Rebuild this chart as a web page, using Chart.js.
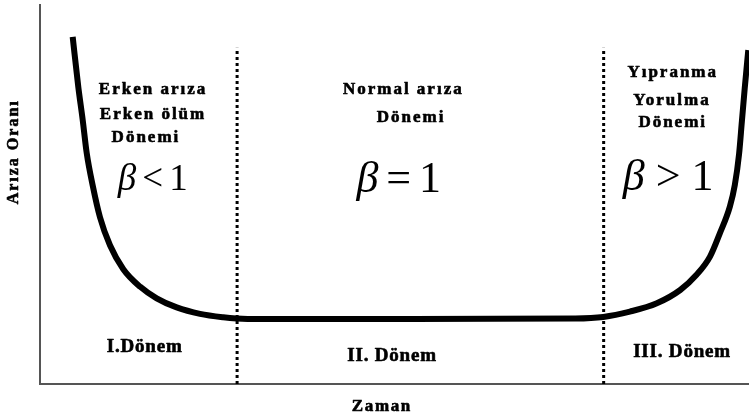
<!DOCTYPE html>
<html>
<head>
<meta charset="utf-8">
<script src="https://cdn.jsdelivr.net/npm/chart.js@4"></script>
<style>
html,body{margin:0;padding:0;background:#fff;}
#wrap{width:749px;height:419px;position:relative;}
.pre{font-family:"Liberation Serif";position:absolute;left:-999px;top:0;}
</style>
</head>
<body>
<span class="pre" style="font-weight:bold">Aa</span><span class="pre" style="font-style:italic">β</span><span class="pre">1</span>
<div id="wrap"><canvas id="c" width="749" height="419"></canvas></div>
<script>
// Time (x) and failure rate (y), abstract units 0-100
const curveTime = [4.61, 5.40, 6.02, 6.59, 7.43, 8.46, 9.87, 11.75, 14.10, 16.46, 19.28, 22.57, 25.85, 27.74, 31.0, 50.0, 75.5, 79.45, 83.2, 87.0, 90.3, 92.6, 94.5, 95.9, 97.3, 98.0, 98.6, 99.0, 99.4, 99.9];
const curveRate = [91.6, 78.4, 69.7, 60.9, 52.4, 44.0, 36.6, 30.3, 25.7, 22.6, 20.2, 18.5, 17.6, 17.3, 17.15, 17.15, 17.3, 17.7, 19.1, 21.3, 24.8, 28.8, 33.6, 39.8, 46.8, 52.5, 60.7, 69.4, 78.1, 88.1];
const boundaryTimes = [27.8, 79.5];
const boundaryTop = 88.7;
const periodLabels = ["I.Dönem", "II. Dönem", "III. Dönem"];
const phaseTitles = [["Erken arıza", "Erken ölüm", "Dönemi"], ["Normal arıza", "Dönemi"], ["Yıpranma", "Yorulma", "Dönemi"]];
const betaOps = ["<", "=", ">"];
const betaValues = ["1", "1", "1"];
const xTitle = "Zaman";
const yTitle = "Arıza Oranı";

const curveData = curveTime.map((t, i) => ({x: t, y: curveRate[i]}));
const boundarySets = boundaryTimes.map(t => ({
  data: [{x: t, y: 0}, {x: t, y: boundaryTop}],
  borderColor: '#000', borderWidth: 3, borderDash: [3, 3], pointRadius: 0, tension: 0, clip: false
}));

const SERIF = '"Liberation Serif", "Times New Roman", serif';

const annot = {
  id: 'annot',
  afterDatasetsDraw(chart) {
    const ctx = chart.ctx, xs = chart.scales.x, ys = chart.scales.y;
    const X = v => xs.getPixelForValue(v), Y = v => ys.getPixelForValue(v);
    ctx.save();
    ctx.fillStyle = '#000';
    ctx.strokeStyle = '#000';
    ctx.lineWidth = 0.6;
    ctx.lineJoin = 'round';
    ctx.textBaseline = 'middle';
    ctx.textAlign = 'center';
    const txt = (s, x, y, size, ls) => {
      ctx.font = 'bold ' + size + 'px ' + SERIF;
      ctx.letterSpacing = (ls || 0) + 'px';
      ctx.fillText(s, x + (ls || 0) / 2, y);
      ctx.strokeText(s, x + (ls || 0) / 2, y);
    };
    // phase titles
    const titlePos = [
      [[15.8, 77.8], [15.8, 71.0], [14.8, 64.9]],
      [[51.1, 77.6], [52.2, 70.4]],
      [[89.1, 82.1], [89.0, 74.9], [89.1, 68.9]]
    ];
    phaseTitles.forEach((lines, i) => lines.forEach((s, j) => {
      txt(s, X(titlePos[i][j][0]), Y(titlePos[i][j][1]), 17, 2);
    }));
    // beta labels
    const betaPos = [[15.9, 54.4, 37, 6], [50.6, 54.6, 44, 8], [88.6, 55.1, 44, 11]];
    betaOps.forEach((op, i) => {
      const [bx, by, size, gap] = betaPos[i];
      ctx.letterSpacing = '0px';
      const parts = [['β', 'italic '], [op, ''], [betaValues[i], '']];
      const widths = parts.map(p => { ctx.font = p[1] + size + 'px ' + SERIF; return ctx.measureText(p[0]).width; });
      const total = widths.reduce((a, b) => a + b, 0) + gap * 2;
      let x = X(bx) - total / 2;
      ctx.textAlign = 'left';
      ctx.textBaseline = 'alphabetic';
      const base = Y(by) + size * 0.33;
      parts.forEach((p, k) => {
        ctx.font = p[1] + size + 'px ' + SERIF;
        ctx.fillText(p[0], x, base);
        x += widths[k] + gap;
      });
      ctx.textAlign = 'center';
      ctx.textBaseline = 'middle';
    });
    // period labels
    const perPos = [[14.7, 9.8], [49.6, 7.4], [90.5, 8.4]];
    periodLabels.forEach((s, i) => txt(s, X(perPos[i][0]), Y(perPos[i][1]), 19, 0.8));
    // axis titles
    txt(xTitle, X(48.1), chart.chartArea.bottom + 23, 17, 1.6);
    ctx.save();
    ctx.translate(14, Y(61));
    ctx.rotate(-Math.PI / 2);
    txt(yTitle, 0, 0, 16, 2);
    ctx.restore();
    ctx.restore();
  }
};

function build() {
  new Chart(document.getElementById('c'), {
    type: 'line',
    data: {
      datasets: [
        {data: curveData, borderColor: '#000', borderWidth: 6, pointRadius: 0, cubicInterpolationMode: 'monotone', borderCapStyle: 'butt', borderJoinStyle: 'round'},
        ...boundarySets
      ]
    },
    options: {
      responsive: false,
      animation: false,
      events: [],
      layout: {padding: {left: 40, top: 5, right: 0, bottom: 35}},
      plugins: {legend: {display: false}, tooltip: {enabled: false}},
      scales: {
        x: {type: 'linear', min: 0, max: 100, ticks: {display: false}, grid: {display: false, drawTicks: false},
            border: {display: true, color: '#555', width: 2},
            afterFit(s) { s.height = 0; }},
        y: {type: 'linear', min: 0, max: 100, ticks: {display: false}, grid: {display: false, drawTicks: false},
            border: {display: true, color: '#555', width: 2},
            afterFit(s) { s.width = 0; }}
      }
    },
    plugins: [annot]
  });
}

const fontLoads = ['bold 17px "Liberation Serif"', 'italic 40px "Liberation Serif"', '40px "Liberation Serif"']
  .map(f => document.fonts.load(f, 'Aβ<1'));
Promise.race([Promise.all(fontLoads), new Promise(r => setTimeout(r, 1500))]).then(build, build);
</script>
</body>
</html>
